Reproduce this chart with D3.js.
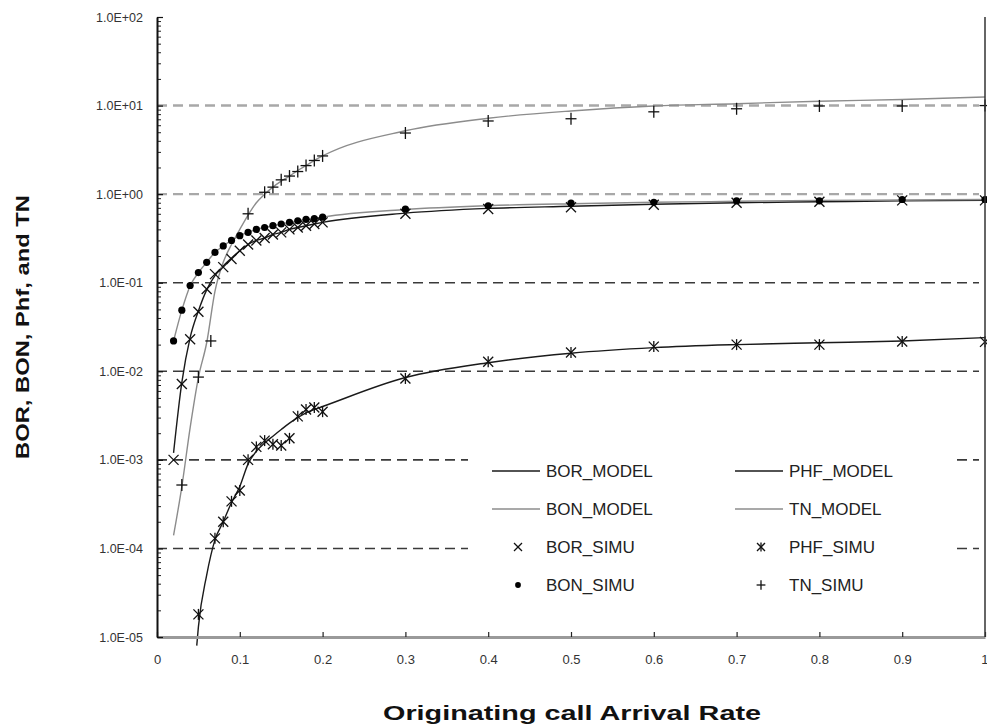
<!DOCTYPE html>
<html>
<head>
<meta charset="utf-8">
<script src="https://cdn.jsdelivr.net/npm/d3@7"></script>
<style>
  html, body { margin: 0; padding: 0; background: #fff; }
  svg { display: block; font-family: "Liberation Sans", Arial, sans-serif; }
</style>
</head>
<body>
<svg id="chart" width="987" height="728"></svg>
<script>
// Arrival-rate grid used by the BOR / BON / TN model curves and by BOR / BON simulations
const rateFine = [0.02, 0.03, 0.04, 0.05, 0.06, 0.07, 0.08, 0.09, 0.10, 0.11, 0.12, 0.13, 0.14,
  0.15, 0.16, 0.17, 0.18, 0.19, 0.20, 0.3, 0.4, 0.5, 0.6, 0.7, 0.8, 0.9, 1.0];

const borModel = [0.0012, 0.0075, 0.024, 0.048, 0.083, 0.12, 0.155, 0.19, 0.23, 0.27, 0.30, 0.32, 0.35,
  0.37, 0.40, 0.42, 0.44, 0.46, 0.48, 0.61, 0.69, 0.73, 0.77, 0.80, 0.82, 0.84, 0.85];
const borSimu = [0.0010, 0.0072, 0.023, 0.047, 0.085, 0.125, 0.15, 0.185, 0.23, 0.27, 0.30, 0.32, 0.35,
  0.37, 0.40, 0.42, 0.44, 0.46, 0.48, 0.60, 0.68, 0.71, 0.76, 0.80, 0.82, 0.85, 0.85];
const bonModel = [0.022, 0.049, 0.092, 0.13, 0.17, 0.22, 0.26, 0.30, 0.34, 0.37, 0.40, 0.42, 0.44,
  0.46, 0.48, 0.50, 0.52, 0.53, 0.55, 0.67, 0.74, 0.78, 0.81, 0.83, 0.85, 0.86, 0.87];
const bonSimu = [0.022, 0.049, 0.093, 0.13, 0.17, 0.22, 0.26, 0.30, 0.34, 0.37, 0.40, 0.42, 0.44,
  0.46, 0.48, 0.50, 0.52, 0.53, 0.55, 0.68, 0.74, 0.79, 0.81, 0.84, 0.84, 0.87, 0.87];
const tnModel = [1.4e-4, 5e-4, 2.3e-3, 8.5e-3, 0.021, 0.08, 0.17, 0.27, 0.40, 0.58, 0.80, 1.0, 1.2,
  1.4, 1.6, 1.85, 2.1, 2.4, 2.7, 5.2, 7.2, 8.7, 9.9, 10.5, 11.2, 11.7, 12.5];

// TN simulation points
const rateTnSimu = [0.03, 0.05, 0.065, 0.11, 0.13, 0.14, 0.15, 0.16, 0.17, 0.18, 0.19, 0.20,
  0.3, 0.4, 0.5, 0.6, 0.7, 0.8, 0.9, 1.0];
const tnSimu = [5.2e-4, 8.6e-3, 0.022, 0.6, 1.05, 1.2, 1.45, 1.6, 1.8, 2.1, 2.4, 2.7,
  4.9, 6.7, 7.1, 8.5, 9.2, 9.9, 9.9, 10];

// PHF model and simulation
const ratePhfModel = [0.048, 0.05, 0.06, 0.07, 0.08, 0.09, 0.10, 0.11, 0.12, 0.13, 0.14, 0.15, 0.16,
  0.17, 0.18, 0.19, 0.20, 0.3, 0.4, 0.5, 0.6, 0.7, 0.8, 0.9, 1.0];
const phfModel = [8e-6, 1.3e-5, 5e-5, 1.25e-4, 2.0e-4, 3.3e-4, 5e-4, 9e-4, 1.25e-3, 1.55e-3, 1.85e-3,
  2.2e-3, 2.6e-3, 3.0e-3, 3.4e-3, 3.7e-3, 4.0e-3, 8.5e-3, 0.0125, 0.016, 0.0185, 0.02, 0.021, 0.022, 0.024];
const ratePhfSimu = [0.05, 0.07, 0.08, 0.09, 0.10, 0.11, 0.12, 0.13, 0.14, 0.15, 0.16, 0.17, 0.18,
  0.19, 0.20, 0.3, 0.4, 0.5, 0.6, 0.7, 0.8, 0.9, 1.0];
const phfSimu = [1.8e-5, 1.3e-4, 2.0e-4, 3.4e-4, 4.5e-4, 1.0e-3, 1.4e-3, 1.65e-3, 1.5e-3, 1.45e-3,
  1.75e-3, 3.1e-3, 3.7e-3, 3.9e-3, 3.5e-3, 8.3e-3, 0.0128, 0.0163, 0.019, 0.02, 0.02, 0.0217, 0.0215];

// Axis ticks
const xTicks = [0, 0.1, 0.2, 0.3, 0.4, 0.5, 0.6, 0.7, 0.8, 0.9, 1];
const yDecades = [1e-5, 1e-4, 1e-3, 1e-2, 1e-1, 1e0, 1e1, 1e2];
const yTickLabels = ["1.0E-05", "1.0E-04", "1.0E-03", "1.0E-02", "1.0E-01", "1.0E+00", "1.0E+01", "1.0E+02"];
const gridLight = [1e1, 1e0];
const gridDark = [1e-1, 1e-2, 1e-3, 1e-4];

const xTitle = "Originating call Arrival Rate";
const yTitle = "BOR, BON, Phf, and TN";

const zip = (xs, ys) => xs.map((v, i) => [v, ys[i]]);

const modelSeries = [
  { name: "BOR_MODEL", pts: zip(rateFine, borModel), dark: true },
  { name: "BON_MODEL", pts: zip(rateFine, bonModel), dark: false },
  { name: "PHF_MODEL", pts: zip(ratePhfModel, phfModel), dark: true },
  { name: "TN_MODEL", pts: zip(rateFine, tnModel), dark: false }
];
const simuSeries = [
  { name: "BOR_SIMU", pts: zip(rateFine, borSimu), shape: "x" },
  { name: "BON_SIMU", pts: zip(rateFine, bonSimu), shape: "dot" },
  { name: "PHF_SIMU", pts: zip(ratePhfSimu, phfSimu), shape: "star" },
  { name: "TN_SIMU", pts: zip(rateTnSimu, tnSimu), shape: "plus" }
];

(function drawChart() {
  const svg = d3.select("#chart");
  const plotLeft = 157, plotRight = 985, plotTop = 17, plotBottom = 637;

  const x = d3.scaleLinear().domain([0, 1]).range([plotLeft, plotRight]);
  const y = d3.scaleLog().domain([1e-5, 1e2]).range([plotBottom, plotTop]);

  // grid lines
  const grid = svg.append("g");
  grid.selectAll("line.gl").data(gridLight).join("line").attr("class", "gl")
    .attr("x1", plotLeft).attr("x2", plotRight - 6)
    .attr("y1", d => y(d)).attr("y2", d => y(d))
    .attr("stroke", "#a8a8a8").attr("stroke-width", 2.4)
    .attr("stroke-dasharray", "10,6");
  grid.selectAll("line.gd").data(gridDark).join("line").attr("class", "gd")
    .attr("x1", plotLeft).attr("x2", plotRight - 6)
    .attr("y1", d => y(d)).attr("y2", d => y(d))
    .attr("stroke", "#3a3a3a").attr("stroke-width", 1.6)
    .attr("stroke-dasharray", "10,6");

  // legend background (covers grid)
  svg.append("rect").attr("x", 468).attr("y", 450).attr("width", 484).attr("height", 156)
    .attr("fill", "#fff");

  // model lines
  const line = d3.line().x(d => x(d[0])).y(d => y(d[1])).curve(d3.curveMonotoneX);
  const lineColor = dark => dark ? "#1a1a1a" : "#8c8c8c";
  svg.append("g").selectAll("path").data(modelSeries).join("path")
    .attr("d", d => line(d.pts))
    .attr("fill", "none")
    .attr("stroke", d => lineColor(d.dark))
    .attr("stroke-width", 1.4);

  // marker drawing
  function marker(g, shape, cx, cy, s) {
    const h = s / 2;
    if (shape === "dot") {
      g.append("circle").attr("cx", cx).attr("cy", cy).attr("r", s * 0.36).attr("fill", "#000");
      return;
    }
    const segs = [];
    if (shape === "x" || shape === "star") {
      segs.push([cx - h, cy - h, cx + h, cy + h], [cx - h, cy + h, cx + h, cy - h]);
    }
    if (shape === "star") segs.push([cx, cy - h * 1.1, cx, cy + h * 1.1]);
    if (shape === "plus") {
      segs.push([cx - h * 1.1, cy, cx + h * 1.1, cy], [cx, cy - h * 1.2, cx, cy + h * 1.2]);
    }
    segs.forEach(s2 => g.append("line")
      .attr("x1", s2[0]).attr("y1", s2[1]).attr("x2", s2[2]).attr("y2", s2[3])
      .attr("stroke", "#111").attr("stroke-width", 1.3));
  }

  const mk = svg.append("g");
  simuSeries.forEach(sr => {
    sr.pts.forEach(p => marker(mk, sr.shape, x(p[0]), y(p[1]), 10));
  });

  // x axis: ticks point up into the plot
  const xAxis = d3.axisBottom(x).tickValues(xTicks)
    .tickFormat(d => String(d))
    .tickSizeInner(-5).tickSizeOuter(0).tickPadding(18);
  const gx = svg.append("g").attr("transform", `translate(0,${plotBottom})`).call(xAxis);
  gx.select(".domain").attr("stroke", "#9a9a9a").attr("stroke-width", 3);
  gx.selectAll(".tick line").attr("stroke", "#222").attr("stroke-width", 1.2);
  gx.selectAll(".tick text")
    .style("font-size", "13px").style("font-family", "'Liberation Sans', Arial, sans-serif")
    .attr("fill", "#333");
  // keep the last label inside the canvas
  gx.selectAll(".tick text").filter(d => d === 1).attr("text-anchor", "end").attr("dx", 3);

  // y axis minor + major ticks, pointing right into the plot
  const minorTicks = [];
  yDecades.slice(0, -1).forEach(d => { for (let k = 2; k <= 9; k++) minorTicks.push(d * k); });
  const yMinor = d3.axisRight(y).tickValues(minorTicks).tickFormat("").tickSizeInner(4).tickSizeOuter(0);
  svg.append("g").attr("transform", `translate(${plotLeft},0)`).call(yMinor)
    .call(g => g.select(".domain").remove())
    .selectAll(".tick line").attr("stroke", "#222").attr("stroke-width", 1);
  const yMajorTicks = d3.axisRight(y).tickValues(yDecades).tickFormat("").tickSizeInner(6).tickSizeOuter(0);
  svg.append("g").attr("transform", `translate(${plotLeft},0)`).call(yMajorTicks)
    .call(g => g.select(".domain").remove())
    .selectAll(".tick line").attr("stroke", "#111").attr("stroke-width", 1.2);

  const yAxis = d3.axisLeft(y).tickValues(yDecades)
    .tickFormat((d, i) => yTickLabels[i]).tickSize(0).tickPadding(14);
  const gy = svg.append("g").attr("transform", `translate(${plotLeft},0)`).call(yAxis);
  gy.select(".domain").attr("stroke", "#111").attr("stroke-width", 2);
  gy.selectAll(".tick text")
    .style("font-size", "12.5px").style("font-family", "'Liberation Sans', Arial, sans-serif")
    .attr("fill", "#333");

  // right frame line
  svg.append("line").attr("x1", plotRight).attr("x2", plotRight).attr("y1", plotTop).attr("y2", plotBottom)
    .attr("stroke", "#333").attr("stroke-width", 1.5);

  // titles
  svg.append("text").attr("x", 572).attr("y", 720).attr("text-anchor", "middle")
    .attr("font-size", 21).attr("font-weight", "bold").attr("fill", "#111")
    .attr("textLength", 378).attr("lengthAdjust", "spacingAndGlyphs").text(xTitle);
  svg.append("text").attr("transform", "translate(29,327) rotate(-90)").attr("text-anchor", "middle")
    .attr("font-size", 19).attr("font-weight", "bold").attr("fill", "#111")
    .attr("textLength", 264).attr("lengthAdjust", "spacingAndGlyphs").text(yTitle);

  // legend
  const legendItems = [
    { name: "BOR_MODEL", col: 0, row: 0, kind: "line", dark: true },
    { name: "PHF_MODEL", col: 1, row: 0, kind: "line", dark: true },
    { name: "BON_MODEL", col: 0, row: 1, kind: "line", dark: false },
    { name: "TN_MODEL", col: 1, row: 1, kind: "line", dark: false },
    { name: "BOR_SIMU", col: 0, row: 2, kind: "x" },
    { name: "PHF_SIMU", col: 1, row: 2, kind: "star" },
    { name: "BON_SIMU", col: 0, row: 3, kind: "dot" },
    { name: "TN_SIMU", col: 1, row: 3, kind: "plus" }
  ];
  const colX = [492, 735], rowY = [471, 509, 547, 585];
  const lg = svg.append("g");
  legendItems.forEach(it => {
    const lx = colX[it.col], ly = rowY[it.row];
    if (it.kind === "line") {
      lg.append("line").attr("x1", lx).attr("x2", lx + 48).attr("y1", ly).attr("y2", ly)
        .attr("stroke", lineColor(it.dark)).attr("stroke-width", 1.6);
    } else {
      marker(lg, it.kind, lx + 26, ly, 8);
    }
    lg.append("text").attr("x", lx + 54).attr("y", ly + 6)
      .attr("font-size", 17).attr("fill", "#222").text(it.name);
  });
})();
</script>
</body>
</html>
